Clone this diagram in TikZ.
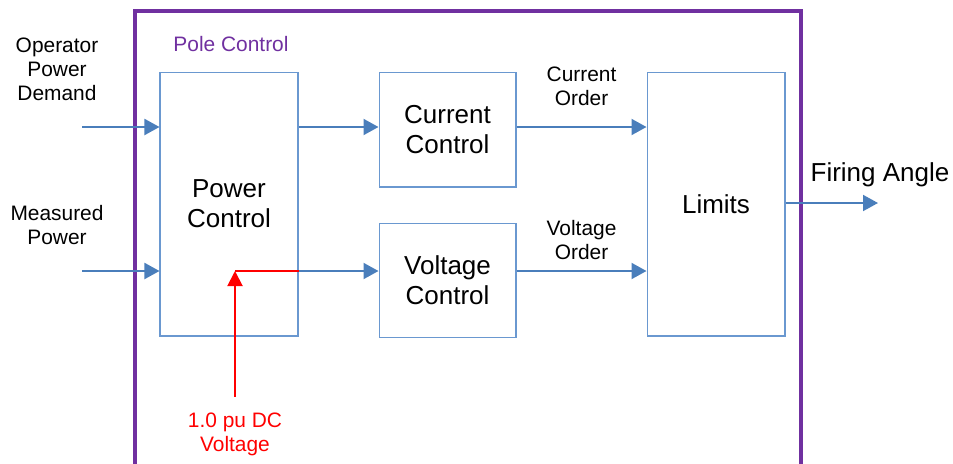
\documentclass[tikz,border=0pt]{standalone}
\usepackage{fontspec}
\setmainfont{Liberation Sans}
\usetikzlibrary{arrows.meta,positioning}
\definecolor{pole}{HTML}{7030A0}
\definecolor{edge}{HTML}{6A98D0}
\definecolor{flow}{HTML}{4A7EBB}
\tikzset{
  blk/.style={draw=edge,line width=0.6pt,fill=white,align=center,inner sep=0pt,font=\fontsize{14.8}{17}\selectfont},
  tag/.style={align=center,inner sep=2pt,text=black,font=\fontsize{11.9}{13.6}\selectfont},
  bigtag/.style={align=center,inner sep=2pt,font=\fontsize{14.8}{17}\selectfont},
  arrow/.style={-{Triangle[length=0.3cm,width=0.32cm]},line width=1.1pt,color=flow},
  refarrow/.style={-{Triangle[length=0.3cm,width=0.3cm]},line width=1.1pt,color=red},
}
\begin{document}
\begin{tikzpicture}[x=0.02cm,y=-0.02cm,node distance=1.6cm]
  \useasboundingbox (0,0) rectangle (953,463);
  \draw[pole,line width=2pt] (135,480) |- (801,11) -- (801,480);
  \node[tag,text=pole] (pc-title) at (231,44) {Pole Control};
  \node[blk,minimum width=2.76cm,minimum height=5.28cm] (pc) at (229,204) {Power\\Control};
  \node[blk,minimum width=2.74cm,minimum height=2.3cm,right=of pc.north east,anchor=north west] (cc) {Current\\Control};
  \node[blk,minimum width=2.74cm,minimum height=2.28cm,below=7mm of cc] (vc) {Voltage\\Control};
  \node[blk,minimum width=2.76cm,minimum height=5.28cm,right=2.6cm of cc.north east,anchor=north west] (lim) {Limits};
  \node[tag] (opd) at (57,69) {Operator\\Power\\Demand};
  \node[tag] (mp) at (57,225) {Measured\\Power};
  \node[tag,text=red] (dcv) at (235,434) {1.0 pu DC\\Voltage};
  \node[bigtag] (fa) at (880,175) {Firing Angle};
  \coordinate (in1) at (82,127);
  \coordinate (in2) at (82,271);
  \coordinate (out) at (878,203);
  \draw[arrow] (in1) -- (in1 -| pc.west); \draw[arrow] (in2) -- (in2 -| pc.west);
  \draw[arrow] (pc.east |- in1) -- (cc.west |- in1);
  \draw[arrow] (pc.east |- in2) -- (vc.west |- in2);
  \draw[arrow] (cc.east |- in1) -- node[tag,above=0.33cm] (co) {Current\\Order} (lim.west |- in1);
  \draw[arrow] (vc.east |- in2) -- node[tag,above=0.13cm] (vo) {Voltage\\Order} (lim.west |- in2);
  \draw[arrow] (lim.east |- out) -- (out);
  \draw[red,line width=1.7pt] (dcv.north |- in2) -- (pc.east |- in2);
  \draw[refarrow,shorten <=0.24cm] (dcv.north) -- (dcv.north |- in2);
\end{tikzpicture}
\end{document}
